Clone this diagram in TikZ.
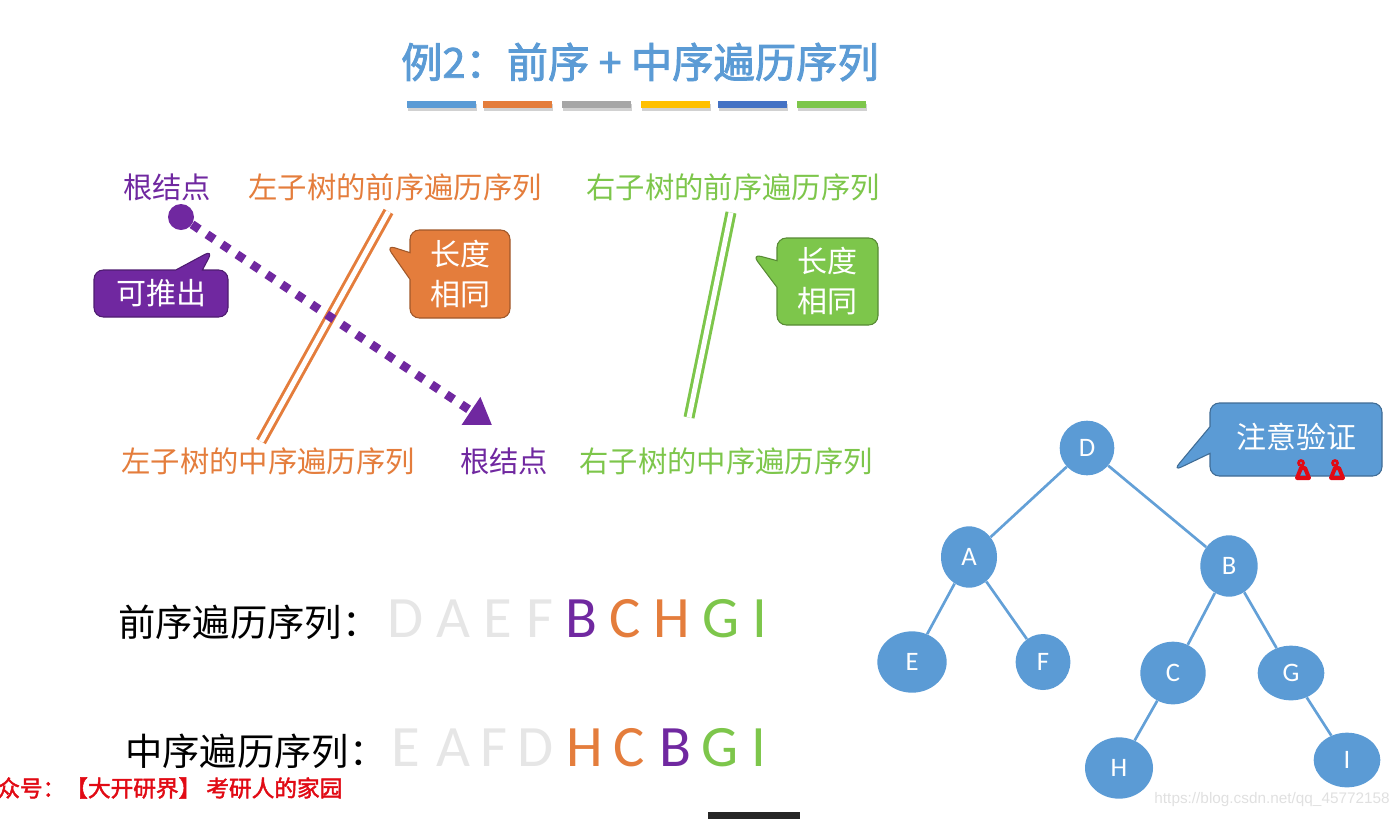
\documentclass[tikz,border=0pt]{standalone}
\usepackage{fontspec}
\setmainfont{Carlito}
\newfontfamily\cjk{Noto Sans CJK SC}
\newfontfamily\cjkb[FakeBold=2]{Noto Sans CJK SC}
\newfontfamily\wmfont{Liberation Sans}
\usetikzlibrary{arrows.meta,calc,positioning,shapes.geometric,shapes.callouts}
\definecolor{tblue}{RGB}{91,155,213}
\definecolor{dblue}{RGB}{68,114,196}
\definecolor{ppl}{RGB}{112,40,160}
\definecolor{org}{RGB}{228,125,60}
\definecolor{grn}{RGB}{125,198,75}
\definecolor{ylw}{RGB}{255,192,0}
\definecolor{lgray}{RGB}{230,230,230}
\definecolor{wmred}{RGB}{225,10,20}
\tikzset{
  lbl/.style={inner sep=0pt, font=\cjk\fontsize{22}{26}\selectfont},
  callbox/.style={rectangle callout, rounded corners=7pt, fill=#1, draw=#1!70!black,
    line width=0.8pt, text=white, align=center, inner sep=0pt, callout pointer width=20pt,
    font=\cjk\fontsize{22.5}{30}\selectfont},
  treenode/.style={ellipse, fill=tblue, text=white, inner sep=0pt,
    font=\fontsize{20}{22}\selectfont},
  treeedge/.style={draw=tblue!95, line width=2pt},
  seqhead/.style={anchor=west, inner sep=0pt, font=\cjk\fontsize{28}{32}\selectfont},
  seqletter/.style={inner sep=0pt, font=\fontsize{44}{46}\selectfont}
}
\begin{document}
\begin{tikzpicture}[x=0.75pt,y=-0.75pt]
\useasboundingbox (0,0) rectangle (1398,819);
% titolo e barre colorate
\node[inner sep=0pt, text=tblue, font=\cjkb\fontsize{31}{34}\selectfont] (title) at (640,62) {例2：前序 + 中序遍历序列};
\foreach \xa/\c in {407/tblue, 483/org, 562/gray!70, 641/ylw, 718/dblue, 797/grn}{
  \fill[black!18] (\xa+1,104) rectangle (\xa+70,111);
  \fill[\c] (\xa,101) rectangle (\xa+69,108);
}
% etichette in alto e in basso
\node[lbl, text=ppl] (rootpre) at (167,187) {根结点};
\node[lbl, text=org] (lpre) at (395,187) {左子树的前序遍历序列};
\node[lbl, text=grn] (rpre) at (733,187) {右子树的前序遍历序列};
\node[lbl, text=org] (lin) at (268,461) {左子树的中序遍历序列};
\node[lbl, text=ppl] (rootin) at (504,461) {根结点};
\node[lbl, text=grn] (rin) at (726,461) {右子树的中序遍历序列};
% linee doppie
\coordinate (la) at (388.5,211.5);
\coordinate (lb) at (261,441.5);
\coordinate (ra) at (731,212.5);
\coordinate (rb) at (689,417.5);
\draw[org, line width=2.25pt, double=white, double distance=3.75pt] (la) -- (lb);
\draw[grn, line width=2.25pt, double=white, double distance=3.75pt] (ra) -- (rb);
% freccia tratteggiata
\node[circle, fill=ppl, minimum size=19.5pt, inner sep=0pt] (dot) at (181,217) {};
\coordinate (tip) at (492,425);
\draw[ppl, line width=6.5pt, dash pattern=on 6.5pt off 7pt,
  -{Triangle[length=19pt, width=24pt]}] (dot) -- (tip);
% fumetti
\node[callbox=ppl, minimum width=100.5pt, minimum height=35.25pt,
  callout absolute pointer={(213,250)}] (derive) at (161,293.5) {可推出};
\node[callbox=org, minimum width=75pt, minimum height=66pt,
  callout absolute pointer={(386,245)}] (lsame) at (460,274) {长度\\相同};
\node[callbox=grn, minimum width=75.75pt, minimum height=65.25pt,
  callout absolute pointer={(752,254)}] (rsame) at (827.5,281.5) {长度\\相同};
\node[callbox=tblue, minimum width=129pt, minimum height=54.75pt,
  callout absolute pointer={(1173,471)}] (check) at (1296,439.5) {\raisebox{6pt}{注意验证}};
\foreach \k in {1303,1337}{
  \draw[wmred, line width=2pt] (\k-2,463) circle (2.5);
  \draw[wmred, line width=3pt, line join=round] (\k-6,478) -- (\k+6,478) -- (\k+2,468) -- (\k-2,468) -- cycle;
}
% sequenze
\node[seqhead] (prehead) at (118,622) {前序遍历序列：};
\foreach \n/\xp/\l/\c in {p1/406/D/lgray, p2/453/A/lgray, p3/498/E/lgray, p4/540/F/lgray,
  p5/581/B/ppl, p6/625/C/org, p7/672/H/org, p8/721/G/grn, p9/760/I/grn}{
  \node[seqletter, text=\c] (\n) at (\xp,619) {\l};
}
\node[seqhead] (inhead) at (125,751) {中序遍历序列：};
\foreach \n/\xp/\l/\c in {q1/406/E/lgray, q2/453/A/lgray, q3/494/F/lgray, q4/536/D/lgray,
  q5/585/H/org, q6/629/C/org, q7/675/B/ppl, q8/720/G/grn, q9/759/I/grn}{
  \node[seqletter, text=\c] (\n) at (\xp,748) {\l};
}
% albero
\node[treenode, minimum width=41pt, minimum height=41pt] (D) at (1087,448) {D};
\node[treenode, minimum width=42pt, minimum height=46pt] (A) at (969,557) {A};
\node[treenode, minimum width=43pt, minimum height=46pt] (B) at (1229,566) {B};
\node[treenode, minimum width=52pt, minimum height=46pt] (E) at (912,662) {E};
\node[treenode, minimum width=41pt, minimum height=42pt] (F) at (1043,662) {F};
\node[treenode, minimum width=49pt, minimum height=47pt] (C) at (1173,673) {C};
\node[treenode, minimum width=50pt, minimum height=41pt] (G) at (1291,673) {G};
\node[treenode, minimum width=51pt, minimum height=46pt] (H) at (1119,768) {H};
\node[treenode, minimum width=50pt, minimum height=41pt] (I) at (1347,760) {I};
\foreach \u/\v in {D/A, D/B, A/E, A/F, B/C, B/G, C/H, G/I}{
  \draw[treeedge] (\u) -- (\v);
}
% filigrane
\node[anchor=west, inner sep=0pt, text=wmred, font=\cjkb\fontsize{17}{20}\selectfont] (wm) at (-3,788) {众号：【大开研界】 考研人的家园};
\node[anchor=east, inner sep=0pt, text=black!12, font=\wmfont\fontsize{11.5}{13}\selectfont] (csdn) at (1390,800) {https://blog.csdn.net/qq\_45772158};
\fill[black!85] (708,812) rectangle (800,819);
\end{tikzpicture}
\end{document}
